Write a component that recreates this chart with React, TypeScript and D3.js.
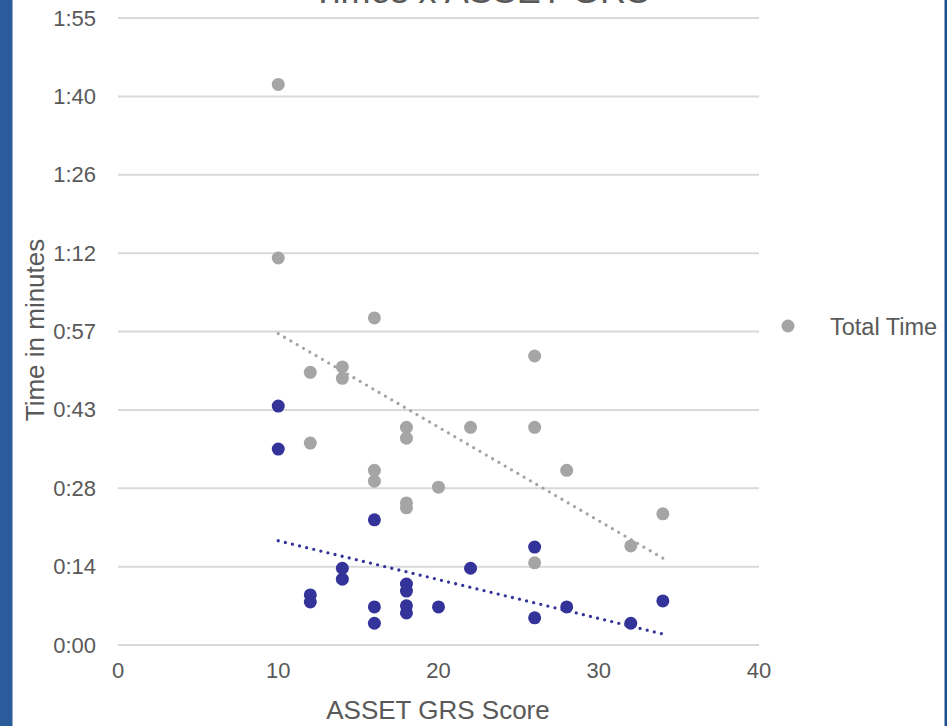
import React from "react";
import * as d3 from "d3";

const totalScores = [10, 10, 12, 12, 14, 14, 16, 16, 16, 18, 18, 18, 18, 20, 22, 26, 26, 26, 28, 32, 34];
const totalMinutes = [103.0, 71.1, 50.1, 37.1, 51.1, 49.0, 60.1, 32.1, 30.1, 40.0, 38.0, 26.1, 25.2, 29.0, 40.0, 53.1, 40.0, 15.1, 32.1, 18.2, 24.1];

const otherScores = [10, 10, 12, 12, 14, 14, 16, 16, 16, 18, 18, 18, 18, 20, 22, 26, 26, 28, 32, 34];
const otherMinutes = [43.9, 36.0, 9.2, 7.9, 14.1, 12.1, 23.0, 7.0, 4.0, 11.2, 9.9, 7.2, 5.9, 7.0, 14.1, 18.0, 5.0, 7.0, 4.0, 8.1];

// tick values: multiples of 0.01 day
const yTickDays = [0, 0.01, 0.02, 0.03, 0.04, 0.05, 0.06, 0.07, 0.08];
const xTicks = [0, 10, 20, 30, 40];

const GRAY = "#a5a5a5";
const BLUE = "#333399";
const TEXT = "#595959";

function fmt(day: number) {
  const totalMin = Math.floor(day * 1440 + 1e-9);
  const h = Math.floor(totalMin / 60);
  const m = totalMin % 60;
  return `${h}:${m.toString().padStart(2, "0")}`;
}

function regression(xs: number[], ys: number[]) {
  const mx = d3.mean(xs)!;
  const my = d3.mean(ys)!;
  let num = 0, den = 0;
  xs.forEach((x, i) => {
    num += (x - mx) * (ys[i] - my);
    den += (x - mx) * (x - mx);
  });
  const slope = num / den;
  return { slope, intercept: my - slope * mx };
}

export default function App() {
  const x = d3.scaleLinear().domain([0, 40]).range([118, 759]);
  const y = d3.scaleLinear().domain([0, 0.08 * 1440]).range([645, 18]);

  const font = "'Liberation Sans', Arial, sans-serif";

  const trend = (xs: number[], ys: number[], color: string) => {
    const { slope, intercept } = regression(xs, ys);
    const x0 = d3.min(xs)!;
    const x1 = d3.max(xs)!;
    const line = d3.line<number>().x((d) => x(d)).y((d) => y(intercept + slope * d));
    return (
      <path
        d={line([x0, x1])!}
        stroke={color}
        strokeWidth={3.3}
        strokeLinecap="round"
        strokeDasharray="0 7.3"
        fill="none"
      />
    );
  };

  return (
    <svg
      width={947}
      height={726}
      style={{ position: "absolute", left: 0, top: 0, background: "#fff" }}
    >
      <rect x={0} y={0} width={947} height={726} fill="#fff" />
      <rect x={0} y={0} width={12.5} height={726} fill="#2a5b9a" />
      <rect x={944.5} y={0} width={2.5} height={726} fill="#1f4e8f" />

      <text x={481} y={3} textAnchor="middle" fontFamily={font} fontSize={36} fill={TEXT}>
        Times x ASSET GRS
      </text>

      {yTickDays.map((d) => (
        <g key={d}>
          <line x1={118} x2={759} y1={y(d * 1440)} y2={y(d * 1440)} stroke="#d9d9d9" strokeWidth={2} />
          <text
            x={96}
            y={y(d * 1440)}
            textAnchor="end"
            dominantBaseline="central"
            fontFamily={font}
            fontSize={22}
            fill={TEXT}
          >
            {fmt(d)}
          </text>
        </g>
      ))}

      {xTicks.map((t) => (
        <text
          key={t}
          x={x(t)}
          y={670}
          textAnchor="middle"
          dominantBaseline="central"
          fontFamily={font}
          fontSize={22}
          fill={TEXT}
        >
          {t}
        </text>
      ))}

      <text x={438} y={710} textAnchor="middle" dominantBaseline="central" fontFamily={font} fontSize={26} fill={TEXT}>
        ASSET GRS Score
      </text>
      <text
        transform={`translate(35,330) rotate(-90)`}
        textAnchor="middle"
        dominantBaseline="central"
        fontFamily={font}
        fontSize={26}
        fill={TEXT}
      >
        Time in minutes
      </text>

      {totalScores.map((s, i) => (
        <circle key={"g" + i} cx={x(s)} cy={y(totalMinutes[i])} r={6.5} fill={GRAY} />
      ))}
      {otherScores.map((s, i) => (
        <circle key={"b" + i} cx={x(s)} cy={y(otherMinutes[i])} r={6.5} fill={BLUE} />
      ))}

      {trend(totalScores, totalMinutes, GRAY)}
      {trend(otherScores, otherMinutes, BLUE)}

      <circle cx={788} cy={326} r={6.5} fill={GRAY} />
      <text x={830} y={327} dominantBaseline="central" fontFamily={font} fontSize={23.5} fill={TEXT}>
        Total Time
      </text>
    </svg>
  );
}
